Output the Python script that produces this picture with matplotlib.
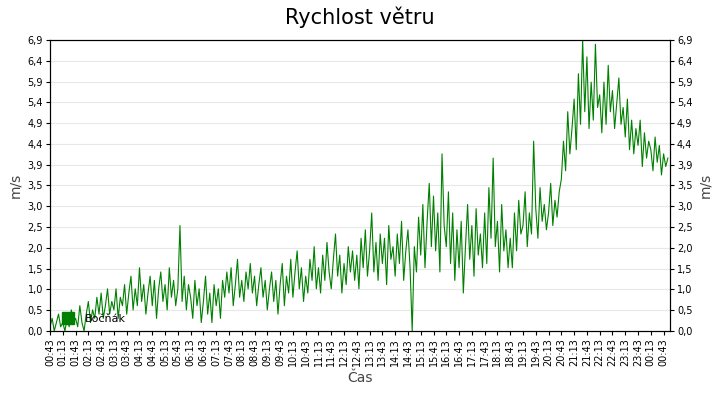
import matplotlib
matplotlib.use("Agg")
import matplotlib.pyplot as plt
import numpy as np

series_name = "Bočňák"
speed = [
0.1,0.3,0.0,0.2,0.4,0.1, 0.2,0.0,0.3,0.1,0.5,0.2, 0.3,0.1,0.6,0.2,0.0,0.4,
0.7,0.2,0.5,0.3,0.8,0.4, 0.9,0.3,0.6,1.0,0.4,0.7, 0.5,1.0,0.3,0.8,0.6,1.1,
0.4,0.9,1.3,0.5,1.0,0.6, 1.5,0.7,1.1,0.4,0.9,1.3, 0.6,1.2,0.3,1.0,1.4,0.7,
1.1,0.5,1.5,0.8,1.2,0.6, 1.0,2.5,0.7,1.3,0.5,1.1, 0.8,0.3,1.2,0.6,1.0,0.2,
0.7,1.3,0.4,0.9,0.2,1.1, 0.6,1.0,0.3,1.2,0.8,1.4, 0.9,1.5,0.6,1.1,1.7,0.8,
1.2,0.7,1.4,1.0,1.6,0.9, 1.3,0.6,1.1,1.5,0.8,1.2, 0.5,1.0,1.4,0.7,1.2,0.4,
1.1,1.6,0.6,1.3,0.9,1.7, 0.8,1.4,1.9,1.0,1.5,0.7, 1.3,0.9,1.7,1.2,2.0,1.0,
1.5,0.9,1.8,1.2,2.1,1.4, 1.0,1.7,2.3,1.3,1.8,0.9, 1.6,1.1,2.0,1.4,1.9,1.2,
1.8,1.0,2.2,1.5,2.4,1.3, 1.9,2.8,1.4,2.1,1.2,2.3, 1.6,2.2,1.1,2.5,1.7,2.0,
1.3,2.3,1.6,2.6,1.2,1.9, 2.4,1.5,0.0,2.0,1.4,2.7, 1.8,3.0,1.5,2.6,3.5,2.0,
3.2,1.9,2.8,1.4,4.2,2.5, 2.0,3.3,1.6,2.8,1.2,2.4, 1.5,2.6,0.9,2.0,3.0,1.7,
2.5,1.3,2.9,1.8,2.3,1.5, 2.8,1.6,3.4,2.2,4.1,2.0, 2.6,1.4,3.0,1.9,2.4,1.5,
2.2,1.5,2.8,1.9,3.1,2.3, 2.5,3.3,2.0,2.8,2.3,4.5, 2.9,2.2,3.4,2.6,3.0,2.4,
2.8,3.5,2.5,3.1,2.7,3.3, 3.6,4.5,3.8,5.2,4.2,4.8, 5.5,4.3,6.1,4.9,6.9,5.2,
6.5,4.8,5.9,5.0,6.8,5.3, 5.6,4.7,5.9,4.9,6.3,5.2, 5.7,4.8,5.4,6.0,4.9,5.3,
4.6,5.5,4.3,5.0,4.2,4.8, 4.4,5.0,3.9,4.7,4.1,4.5, 4.3,3.8,4.6,4.0,4.4,3.7,
4.2,3.9,4.1]
step_min = 5
x_labels = []
m = 43
for i in range(49):
    t = (m + 30 * i)
    x_labels.append("%02d:%02d" % ((t // 60) % 24, t % 60))
y_labels = ["0,0","0,5","1,0","1,5","2,0","2,5","3,0","3,5","3,9","4,4","4,9","5,4","5,9","6,4","6,9"]

fig = plt.figure(figsize=(7.2, 4.0), dpi=100)
ax = fig.add_axes([50/720, 69/400, 620/720, 291/400])
t = np.arange(len(speed)) * step_min
ax.plot(t, speed, color="#008000", lw=0.8)
xmax = len(speed) * step_min
ax.set_xlim(0, xmax)
ax.set_ylim(0, 6.9)
yt = np.linspace(0, 6.9, 15)
ax.set_yticks(yt)
ax.set_yticklabels(y_labels, fontsize=7)
ax.set_xticks(np.arange(49) * 30)
ax.set_xticklabels(x_labels, rotation=90, fontsize=7)
ax.grid(axis="y", color="#e8e8e8", lw=0.8)
ax.set_axisbelow(True)
ax2 = ax.twinx()
ax2.set_ylim(0, 6.9)
ax2.set_yticks(yt)
ax2.set_yticklabels(y_labels, fontsize=7)
ax2.set_ylabel("m/s", fontsize=10, color="#444444")
ax.set_ylabel("m/s", fontsize=10, color="#444444")
ax.set_xlabel("Čas", fontsize=10, color="#444444")
for a in (ax, ax2):
    a.tick_params(length=3, pad=2)
fig.suptitle("Rychlost větru", fontsize=15, y=0.985)
ax.plot([], [], "s", color="#008000", ms=8, label=series_name)
ax.legend(loc="lower left", frameon=False, fontsize=8, handletextpad=0.5, borderaxespad=0.2)
fig.savefig("out.png", dpi=100)
